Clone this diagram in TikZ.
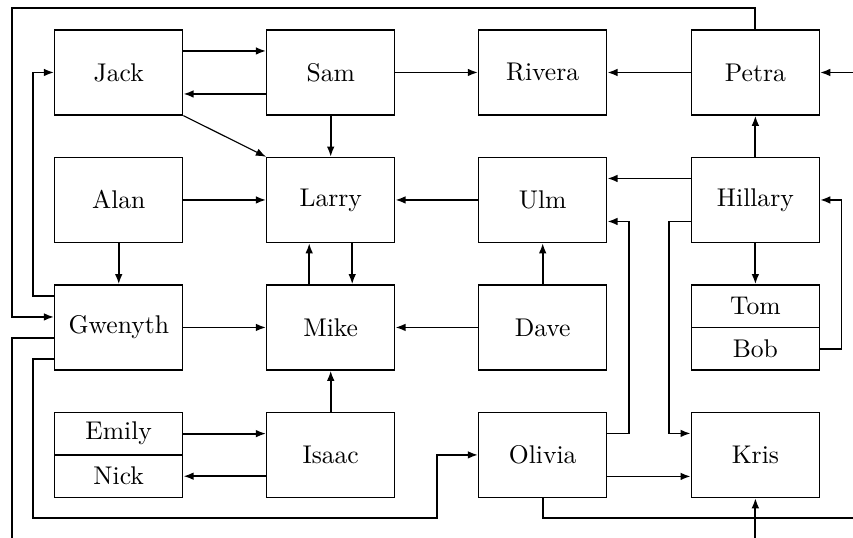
\documentclass[tikz,border=0pt]{standalone}
\usetikzlibrary{arrows.meta}

\begin{document}
\begin{tikzpicture}[>={Latex[length=4pt,width=3pt]},
  person/.style={draw,line width=0.5pt,minimum width=1.757cm,minimum height=1.167cm},
  half/.style={draw,line width=0.5pt,minimum width=1.757cm,minimum height=0.5835cm},
  link/.style={->,line width=0.7pt}]
\useasboundingbox (0,0) rectangle (11.71,-7.384);

\node[person] (jack) at (1.63,-0.995) {Jack};
\node[person] (sam) at (4.54,-0.995) {Sam};
\node[person] (rivera) at (7.45,-0.995) {Rivera};
\node[person] (petra) at (10.37,-0.995) {Petra};
\node[person] (alan) at (1.63,-2.745) {Alan};
\node[person] (larry) at (4.54,-2.745) {Larry};
\node[person] (ulm) at (7.45,-2.745) {Ulm};
\node[person] (hillary) at (10.37,-2.745) {Hillary};
\node[person] (gwenyth) at (1.63,-4.495) {Gwenyth};
\node[person] (mike) at (4.54,-4.495) {Mike};
\node[person] (dave) at (7.45,-4.495) {Dave};
\node[half] (tom) at (10.37,-4.203) {Tom};
\node[half] (bob) at (10.37,-4.787) {Bob};
\node[half] (emily) at (1.63,-5.953) {Emily};
\node[half] (nick) at (1.63,-6.537) {Nick};
\node[person] (isaac) at (4.54,-6.245) {Isaac};
\node[person] (olivia) at (7.45,-6.245) {Olivia};
\node[person] (kris) at (10.37,-6.245) {Kris};

\coordinate (loopnw) at (0.165,-0.11);
\coordinate (railw) at (0.453,-7.11);
\coordinate (jog) at (6.0,-7.11);
\coordinate (edgee) at (11.71,-0.995);
\coordinate (edgese) at (11.71,-7.11);
\coordinate (edgesw) at (0.165,-7.384);
\coordinate (edges) at (10.37,-7.384);

\draw[link] ([yshift=8.4pt]jack.east) -- ([yshift=8.4pt]sam.west);
\draw[link] ([yshift=-8.4pt]sam.west) -- ([yshift=-8.4pt]jack.east);
\draw[->,line width=0.45pt] (jack.south east) -- (larry.north west);
\draw[link] (sam.south) -- (larry.north);
\draw[link] (sam) -- (rivera);
\draw[link] (petra) -- (rivera);
\draw[link] (edgee) -- (petra.east);
\draw[link] (petra.north) |- (loopnw) |- ([yshift=4.1pt]gwenyth.west);
\draw[link] ([yshift=12.3pt]gwenyth.west) -| (railw |- jack.west) -- (jack.west);

\draw[link] (alan) -- (larry);
\draw[link] (alan) -- (gwenyth);
\draw[link] ([xshift=-8.4pt]mike.north) -- ([xshift=-8.4pt]larry.south);
\draw[link] ([xshift=8.4pt]larry.south) -- ([xshift=8.4pt]mike.north);
\draw[link] (ulm) -- (larry);
\draw[link] ([yshift=8.4pt]hillary.west) -- ([yshift=8.4pt]ulm.east);
\draw[link] (hillary) -- (petra);

\draw[link] (gwenyth) -- (mike);
\draw[link] (dave) -- (mike);
\draw[link] (dave) -- (ulm);
\draw[link] (hillary) -- (tom);
\draw[link] (bob.east) -| ([xshift=8.4pt]hillary.east) -- (hillary.east);
\draw[link] ([yshift=-8.4pt]hillary.west) -| ([xshift=-8.6pt,yshift=8.4pt]kris.west) -- ([yshift=8.4pt]kris.west);

\draw[link] (isaac) -- (mike);
\draw[link] (emily.east) -- (emily.east -| isaac.west);
\draw[link] (nick.east -| isaac.west) -- (nick.east);
\draw[link] ([yshift=8.4pt]olivia.east) -| ([xshift=8.6pt,yshift=-8.4pt]ulm.east) -- ([yshift=-8.4pt]ulm.east);
\draw[link] ([yshift=-8.4pt]olivia.east) -- ([yshift=-8.4pt]kris.west);
\draw[link] (edges) -- (kris.south);

\draw[line width=0.7pt] ([yshift=-4.1pt]gwenyth.west) -| (edgesw);
\draw[link] ([yshift=-12.3pt]gwenyth.west) -| (railw) -| (jog |- olivia.west) -- (olivia.west);
\draw[line width=0.7pt] (olivia.south) |- (edgese);
\end{tikzpicture}
\end{document}
